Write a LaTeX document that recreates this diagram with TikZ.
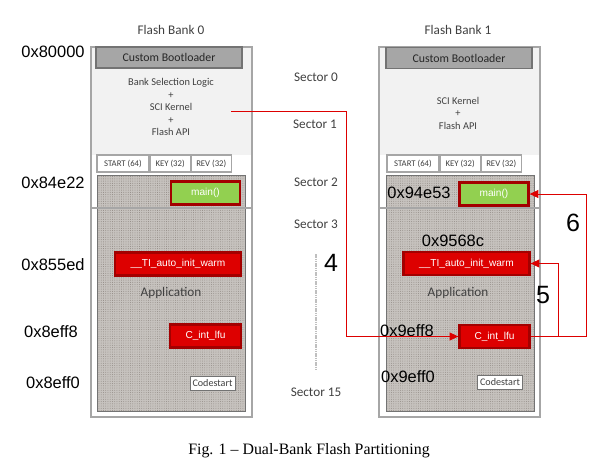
\documentclass[tikz,border=0pt]{standalone}
\usepackage{fontspec}
\setmainfont{Carlito}
\newfontfamily\arialfont{Liberation Sans}
\newfontfamily\timesfont{Liberation Serif}
\usepackage{xcolor}
\definecolor{cRed}{HTML}{DD0000}
\definecolor{cRedDark}{HTML}{A30000}
\definecolor{cGreen}{HTML}{92D050}
\definecolor{cBoot}{HTML}{A6A6A6}
\definecolor{cFrame}{HTML}{A6A6A6}
\definecolor{cApp}{HTML}{C6C2BE}
\definecolor{cDot}{HTML}{8E8781}
\definecolor{cText}{HTML}{404040}
\usepackage{tikz}
\usetikzlibrary{positioning,arrows.meta,patterns.meta}
\tikzset{
  bank-frame/.style={draw=cFrame,line width=0.9pt,fill=white},
  bank-top/.style={fill=black!5},
  bank-app/.style={draw=black!55,line width=0.6pt,preaction={fill=cApp},
    pattern={Dots[distance=1.6pt,radius=0.35pt]},pattern color=cDot},
  node-boot/.style={draw=black!55,line width=0.8pt,fill=cBoot,inner sep=0pt,
    minimum width=3.65cm,minimum height=0.525cm,
    font=\fontsize{8.4}{10}\selectfont,text=black!85},
  node-hdr/.style={draw=cFrame,line width=0.8pt,fill=white,inner sep=0pt,
    minimum height=0.425cm,font=\fontsize{6.2}{7}\selectfont,text=cText},
  node-func/.style={draw=cRedDark,line width=1.6pt,fill=cRed,text=white,
    inner sep=0pt,minimum height=0.575cm,font=\arialfont\fontsize{7.2}{8}\selectfont},
  node-main/.style={node-func,fill=cGreen},
  node-code/.style={draw=black!55,line width=0.6pt,fill=white,inner sep=0pt,
    minimum width=1.125cm,minimum height=0.35cm,
    font=\fontsize{7.2}{8}\selectfont,text=cText},
  node-addr/.style={font=\arialfont\fontsize{11.7}{13}\selectfont,inner sep=0pt},
  node-step/.style={font=\arialfont\fontsize{17.8}{20}\selectfont,inner sep=0pt},
  node-label/.style={font=\fontsize{9.4}{11}\selectfont,text=cText,inner sep=0pt},
  node-text/.style={align=center,font=\fontsize{7.4}{8.9}\selectfont,
    text=cText,inner sep=0pt},
  arrow-red/.style={-{Triangle[length=2.2mm,width=2mm]},line width=0.7pt,draw=cRed},
  sector-dots/.style={draw=black!25,line width=1.5pt,dash pattern=on 1.2pt off 0.4pt},
}
\begin{document}
\begin{tikzpicture}[x=0.025cm,y=-0.025cm]
  \useasboundingbox (0,0) rectangle (597,469);

  % Flash Bank 0
  \node[node-label] (bank0) at (171,30) {Flash Bank 0};
  \draw[bank-frame] (91,47) rectangle (252,417);
  \fill[bank-top] (92,48) rectangle (251,155);
  \node[node-boot] (boot0) at (169,57.5) {Custom Bootloader};
  \node[node-text] (logic0) at (171,107)
    {Bank Selection Logic\\+\\SCI Kernel\\+\\Flash API};
  \node[node-hdr,minimum width=1.3cm] (start0) at (123,163.5) {START (64)};
  \node[node-hdr,minimum width=1cm,right=0pt of start0] (key0) {KEY (32)};
  \node[node-hdr,minimum width=1cm,right=0pt of key0] (rev0) {REV (32)};
  \path[bank-app] (97,175) rectangle (245,411);
  \draw[cFrame,line width=0.9pt] (91,208) -- (252,208);
  \node[node-main,minimum width=1.725cm] (main0) at (205.5,193) {main()};
  \node[node-func,minimum width=3.15cm] (warm0) at (178,264) {\_\_TI\_auto\_init\_warm};
  \node[node-label] (app0) at (171,293) {Application};
  \node[node-func,minimum width=1.775cm] (lfu0) at (205.5,336) {C\_int\_lfu};
  \node[node-code] (code0) at (212.5,383) {Codestart};
  \coordinate (k0) at (231,111);

  \node[node-addr] (a80000) at (53,52) {0x80000};
  \node[node-addr] (a84e22) at (53,183) {0x84e22};
  \node[node-addr] (a855ed) at (53,265) {0x855ed};
  \node[node-addr] (a8eff8) at (51,332) {0x8eff8};
  \node[node-addr] (a8eff0) at (53,383) {0x8eff0};

  % sectors
  \node[node-label] (sec0) at (316,77) {Sector 0};
  \node[node-label] (sec1) at (315,124) {Sector 1};
  \node[node-label] (sec2) at (316,182) {Sector 2};
  \node[node-label] (sec3) at (316,224) {Sector 3};
  \node[node-label] (sec15) at (316,392) {Sector 15};
  \draw[sector-dots] (316,254) -- (316,369);

  % Flash Bank 1
  \node[node-label] (bank1) at (458,30) {Flash Bank 1};
  \draw[bank-frame] (379,47) rectangle (540,417);
  \fill[bank-top] (380,48) rectangle (539,155);
  \node[node-boot] (boot1) at (459,58) {Custom Bootloader};
  \node[node-text] (logic1) at (458,113) {SCI Kernel\\+\\Flash API};
  \node[node-hdr,minimum width=1.3cm] (start1) at (413,163.5) {START (64)};
  \node[node-hdr,minimum width=1cm,right=0pt of start1] (key1) {KEY (32)};
  \node[node-hdr,minimum width=1cm,right=0pt of key1] (rev1) {REV (32)};
  \path[bank-app] (386,175) rectangle (534,411);
  \draw[cFrame,line width=0.9pt] (379,208) -- (540,208);
  \node[node-main,minimum width=1.725cm] (main1) at (494,194) {main()};
  \node[node-func,minimum width=3.15cm] (warm1) at (466.5,263.5) {\_\_TI\_auto\_init\_warm};
  \node[node-label] (app1) at (458,293) {Application};
  \node[node-func,minimum width=1.75cm] (lfu1) at (494.5,336.5) {C\_int\_lfu};
  \node[node-code] (code1) at (500,382.5) {Codestart};

  \node[node-addr] (a94e53) at (419,193) {0x94e53};
  \node[node-addr] (a9568c) at (453,241) {0x9568c};
  \node[node-addr] (a9eff8) at (407,331) {0x9eff8};
  \node[node-addr] (a9eff0) at (408,377) {0x9eff0};

  % jumps
  \draw[arrow-red] (k0) -- ++(115,0) |- (lfu1.west);
  \draw[arrow-red] (lfu1.east) -- ++(28,0) |- (warm1.east);
  \draw[arrow-red] (lfu1.east) -- ++(56,0) |- (main1.east);
  \node[node-step] (n4) at (331,263) {4};
  \node[node-step] (n5) at (543,295) {5};
  \node[node-step] (n6) at (573,223) {6};

  \node[font=\timesfont\fontsize{11.3}{13}\selectfont] (caption) at (309,451)
    {Fig. 1 – Dual-Bank Flash Partitioning};
\end{tikzpicture}
\end{document}
